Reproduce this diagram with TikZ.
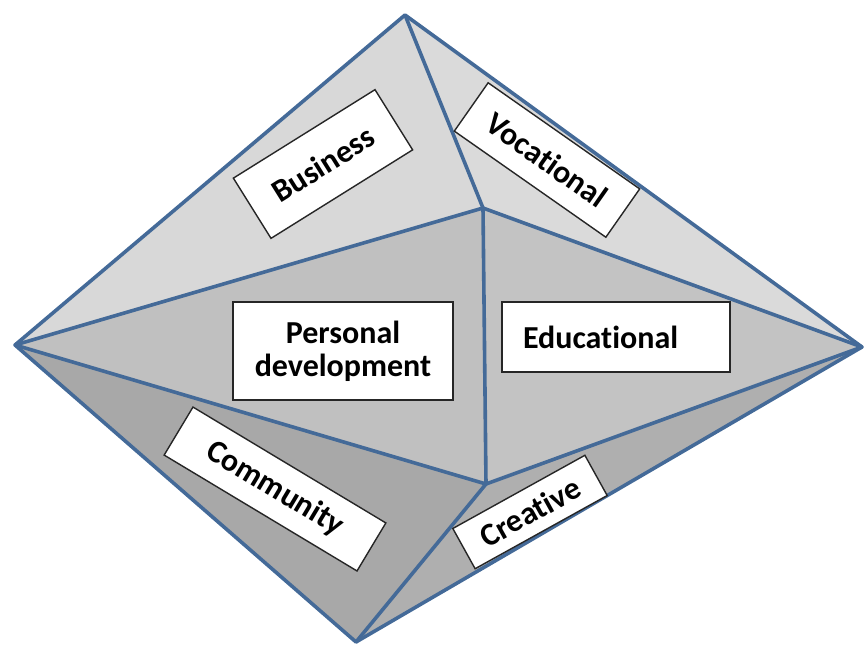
\documentclass[tikz,border=0pt]{standalone}
\usepackage{fontspec}
\setmainfont{Carlito}

\definecolor{edgeblue}{RGB}{68,106,152}
\definecolor{facetop}{RGB}{216,216,216}
\definecolor{facemid}{RGB}{192,192,192}
\definecolor{facelow}{RGB}{168,168,168}

\tikzset{
  facet/.style={line width=3.6pt, draw=edgeblue, line join=round},
  tag/.style={draw=black!85, line width=1.4pt, fill=white, inner sep=0pt,
    font=\fontsize{32}{33}\selectfont\bfseries, align=center}
}

\begin{document}
\begin{tikzpicture}[x=1pt,y=-1pt]
 \useasboundingbox (0,0) rectangle (865,646);

 \coordinate (top)    at (405,15);
 \coordinate (left)   at (15,345);
 \coordinate (right)  at (862,347);
 \coordinate (bottom) at (356,642);
 \coordinate (ctop)   at (483,208);
 \coordinate (cbot)   at (486,484);

 %% faces
 \fill [facetop]          (top) -- (left) -- (ctop) -- cycle;
 \fill [facetop!95!white] (top) -- (ctop) -- (right) -- cycle;
 \fill [facemid]          (left) -- (ctop) -- (cbot) -- cycle;
 \fill [facemid!95!white] (ctop) -- (right) -- (cbot) -- cycle;
 \fill [facelow]          (left) -- (cbot) -- (bottom) -- cycle;
 \fill [facelow!92!white] (cbot) -- (right) -- (bottom) -- cycle;

 %% edges
 \draw [facet] (top) -- (left) -- (bottom) -- (right) -- cycle;
 \draw [facet] (top) -- (ctop) -- (cbot) -- (bottom);
 \draw [facet] (left) -- (ctop) -- (right);
 \draw [facet] (left) -- (cbot) -- (right);

 %% labels (t\kern0pt i keeps the t and i apart)
 \node [tag, rotate=32, minimum width=167, minimum height=71] (business) at (323,164) {Business};
 \node [tag, rotate=-35, minimum width=185, minimum height=59] (vocational) at (547,160) {Vocat\kern0pt ional};
 \node [tag, minimum width=220, minimum height=98] (personal) at (343,351) {Personal\\development};
 \node [tag, minimum width=228, minimum height=70, text width=186, align=left, inner xsep=21] (educational) at (616,337) {Educat\kern0pt ional};
 \node [tag, rotate=-31, minimum width=225, minimum height=56] (community) at (275,489) {Community};
 \node [tag, rotate=29, minimum width=151, minimum height=46] (creative) at (530,512) {Creat\kern0pt ive};
\end{tikzpicture}
\end{document}
